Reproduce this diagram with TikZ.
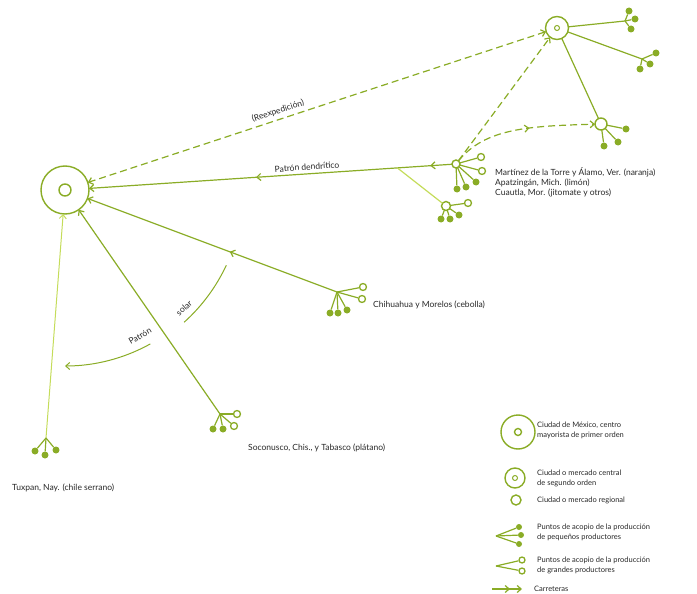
\documentclass[tikz,border=0pt]{standalone}
\usepackage{fontspec}
\setmainfont{Lato}
\usetikzlibrary{arrows.meta}
\usetikzlibrary{calc}
\usetikzlibrary{decorations.markings}

\definecolor{verde}{RGB}{138,172,38}
\definecolor{verdeclaro}{RGB}{196,220,90}
\definecolor{gris}{RGB}{40,40,40}

\begin{document}
\begin{tikzpicture}[x=1pt,y=-1pt,
  road/.style={draw=verde,line width=1.2pt},
  roaddash/.style={road,dash pattern=on 7pt off 4pt},
  roadtip/.style={-{Straight Barb[length=4pt,width=7pt]}},
  midtip/.style={postaction={decorate,decoration={markings,mark=at position #1 with {\arrow[verde]{Straight Barb[length=4pt,width=7pt]}}}}},
  city/.style={circle,draw=verde,line width=1.4pt,inner sep=0pt,outer sep=0pt},
  dot/.style={circle,fill=verde,inner sep=0pt,minimum size=7pt},
  ring/.style={circle,draw=verde,line width=1.3pt,fill=white,inner sep=0pt,minimum size=7pt},
  lbl/.style={text=gris,font=\fontsize{8.5}{10}\selectfont,inner sep=0pt},
  leyenda/.style={text=gris,font=\fontsize{7.5}{10}\selectfont,inner sep=0pt,align=left,anchor=west}]

\useasboundingbox (0,0) rectangle (697,594);

\node[city,minimum size=48pt] (mexico) at (65,190) {};
\node[city,minimum size=12pt] (mexicoin) at (mexico) {};
\node[city,minimum size=23pt] (segundo) at (557,28) {};
\node[city,minimum size=5pt,line width=1pt] (segundoin) at (segundo) {};
\node[city,minimum size=12pt] (regional) at (601,124) {};
\node[city,minimum size=8pt,fill=white] (martinez) at (456,164) {};
\node[city,minimum size=9pt,fill=white] (cuautla) at (446,206) {};
\coordinate (chihuahua) at (337,292);
\coordinate (soconusco) at (220,414);
\coordinate (tuxpan) at (46,438);
\coordinate (grupoa) at (625,21);
\coordinate (grupob) at (642,59);
\coordinate (ramal) at ($(martinez)!0.15!(mexico)$);

\draw[roaddash,{Straight Barb[length=4pt,width=7pt]}-{Straight Barb[length=4pt,width=7pt]}] (segundo) -- (mexico);
\draw[road,roadtip,midtip=0.06,midtip=0.54] (martinez) -- (mexico);
\draw[road,draw=verdeclaro] (ramal) -- (cuautla);
\draw[roaddash,roadtip] (martinez) -- (segundo);
\draw[roaddash,roadtip,midtip=0.55] (martinez) .. controls (485,128) and (530,126) .. (regional);
\draw[road] (segundo) -- (regional);
\draw[road] (segundo) -- (grupoa);
\draw[road] (segundo) -- (grupob);
\draw[road,roadtip,midtip=0.43] (chihuahua) -- (mexico);
\draw[road,roadtip] (soconusco) -- (mexico);
\draw[road,draw=verdeclaro,line width=1pt,roadtip] (tuxpan) -- (mexico);

\draw[road,line width=1pt,roadtip] (mexico) ++(61:176) arc[start angle=61,end angle=90,radius=176];
\draw[road,line width=1pt] (mexico) ++(25:178) arc[start angle=25,end angle=48,radius=178];

\foreach \i/\x/\y in {1/629/11,2/635/19,3/631/29} {
  \node[dot] (grupoa\i) at (\x,\y) {};
  \draw[road] (grupoa) -- (grupoa\i);
}
\foreach \i/\x/\y in {1/656/53,2/650/64,3/640/69} {
  \node[dot] (grupob\i) at (\x,\y) {};
  \draw[road] (grupob) -- (grupob\i);
}
\foreach \i/\x/\y in {1/626/129,2/618/142,3/604/146} {
  \node[dot] (regional\i) at (\x,\y) {};
  \draw[road] (regional) -- (regional\i);
}
\foreach \i/\x/\y in {1/481/157,2/482/171} {
  \node[ring] (martinezr\i) at (\x,\y) {};
  \draw[road] (martinez) -- (martinezr\i);
}
\foreach \i/\x/\y in {1/476/182,2/466/187,3/457/189} {
  \node[dot] (martinezd\i) at (\x,\y) {};
  \draw[road] (martinez) -- (martinezd\i);
}
\node[ring] (cuautlar) at (468,203) {};
\draw[road] (cuautla) -- (cuautlar);
\foreach \i/\x/\y in {1/441/219,2/450/219,3/459/215} {
  \node[dot] (cuautlad\i) at (\x,\y) {};
  \draw[road] (cuautla) -- (cuautlad\i);
}
\foreach \i/\x/\y in {1/363/287,2/362/299} {
  \node[ring] (chihuahuar\i) at (\x,\y) {};
  \draw[road] (chihuahua) -- (chihuahuar\i);
}
\foreach \i/\x/\y in {1/330/313,2/338/313,3/347/310} {
  \node[dot] (chihuahuad\i) at (\x,\y) {};
  \draw[road] (chihuahua) -- (chihuahuad\i);
}
\foreach \i/\x/\y in {1/237/414,2/234/426} {
  \node[ring] (soconuscor\i) at (\x,\y) {};
  \draw[road] (soconusco) -- (soconuscor\i);
}
\foreach \i/\x/\y in {1/213/429,2/223/429} {
  \node[dot] (soconuscod\i) at (\x,\y) {};
  \draw[road] (soconusco) -- (soconuscod\i);
}
\foreach \i/\x/\y in {1/35/451,2/45/455,3/56/450} {
  \node[dot] (tuxpan\i) at (\x,\y) {};
  \draw[road] (tuxpan) -- (tuxpan\i);
}

\node[lbl,rotate=18] (reexpedicion) at (278,111) {(Reexpedición)};
\node[lbl,rotate=4] (dendritico) at (307,167) {Patrón dendrítico};
\node[lbl,rotate=30] (patron) at (140,336) {Patrón};
\node[lbl,rotate=42] (solar) at (184,308) {solar};
\node[lbl,anchor=west,align=left] (textomartinez) at (495,182) {Martínez de la Torre y Álamo, Ver. (naranja)\\Apatzingán, Mich. (limón)\\Cuautla, Mor. (jitomate y otros)};
\node[lbl,anchor=west] (textochihuahua) at (373,305) {Chihuahua y Morelos (cebolla)};
\node[lbl,anchor=west] (textosoconusco) at (248,448) {Soconusco, Chis., y Tabasco (plátano)};
\node[lbl,anchor=west] (textotuxpan) at (12,488) {Tuxpan, Nay. (chile serrano)};

\node[city,minimum size=34pt] (leyendamexico) at (518,432) {};
\node[city,minimum size=7pt] (leyendamexicoin) at (leyendamexico) {};
\node[leyenda] (textomexico) at (537,430) {Ciudad de México, centro\\mayorista de primer orden};
\node[city,minimum size=20pt] (leyendasegundo) at (515,478) {};
\node[city,minimum size=5pt,line width=1pt] (leyendasegundoin) at (leyendasegundo) {};
\node[leyenda] (textosegundo) at (537,478) {Ciudad o mercado central\\de segundo orden};
\node[city,minimum size=10pt] (leyendaregional) at (516,500) {};
\node[leyenda] (textoregional) at (537,500) {Ciudad o mercado regional};
\coordinate (leyendapeq) at (496,536);
\foreach \i/\x/\y in {1/519/527,2/521/535,3/519/544} {
  \node[dot,minimum size=6pt] (leyendapeq\i) at (\x,\y) {};
  \draw[road] (leyendapeq) -- (leyendapeq\i);
}
\node[leyenda] (textopeq) at (537,532) {Puntos de acopio de la producción\\de pequeños productores};
\coordinate (leyendagran) at (496,566);
\foreach \i/\x/\y in {1/522/560,2/522/571} {
  \node[ring,minimum size=6pt] (leyendagran\i) at (\x,\y) {};
  \draw[road] (leyendagran) -- (leyendagran\i);
}
\node[leyenda] (textogran) at (537,565) {Puntos de acopio de la producción\\de grandes productores};
\coordinate (carreteraa) at (492,589);
\coordinate (carreterab) at (522,589);
\draw[road,roadtip,midtip=0.6] (carreteraa) -- (carreterab);
\node[leyenda] (textocarreteras) at (534,589) {Carreteras};
\end{tikzpicture}
\end{document}
